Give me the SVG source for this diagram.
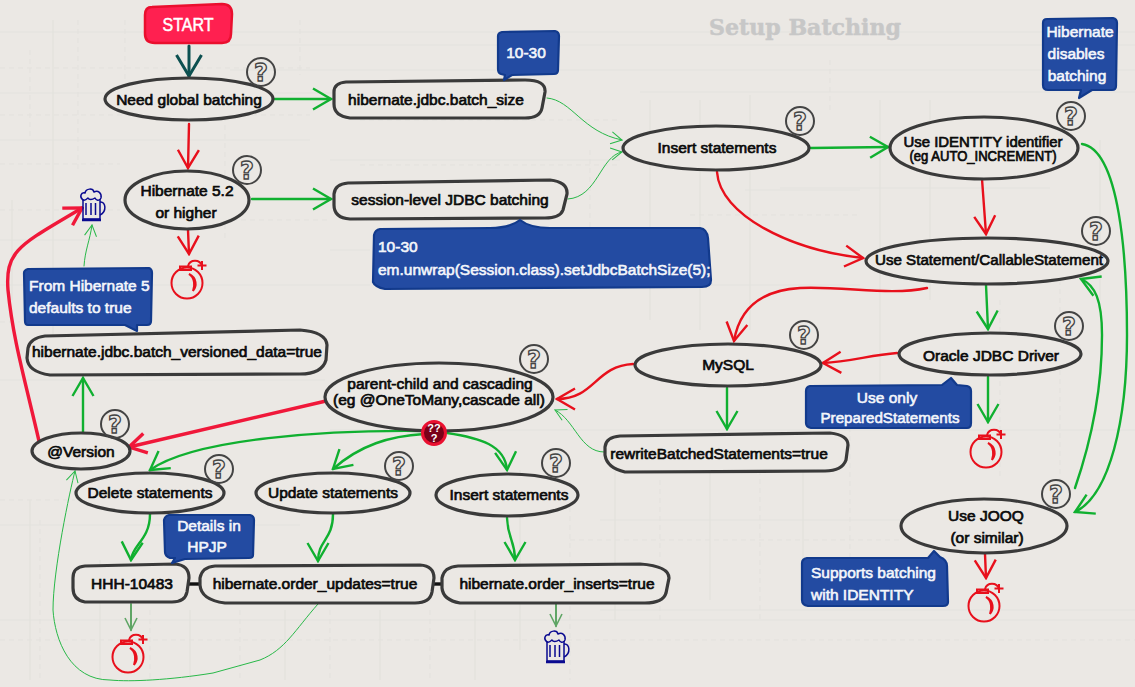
<svg xmlns="http://www.w3.org/2000/svg" width="1135" height="687" viewBox="0 0 1135 687">
<style>
text{font-family:"Liberation Sans",Arial,sans-serif;text-anchor:middle}
.t{font-size:15.500px;fill:#0a0a0a;stroke:#0a0a0a;stroke-width:.7}
.s{font-size:14px;fill:#0a0a0a;stroke:#0a0a0a;stroke-width:.7}
.w{font-size:15.500px;fill:#f4f6fb;stroke:#f4f6fb;stroke-width:.6}
.n{fill:#ebe8e4;stroke:#3a3a3a;stroke-width:3.2}
.c{fill:#234ba2;stroke:#123a8c;stroke-width:2.2;stroke-linejoin:round}
.q{fill:none;stroke:#444;stroke-width:2}
.qt{font-family:"DejaVu Sans",sans-serif;font-weight:bold;font-size:24px;fill:#ebe8e4;stroke:#444;stroke-width:1.3}
path.a{fill:none;stroke-linecap:round}
.g{stroke:#10b030;stroke-width:2.4;marker-end:url(#mg)}
.r{stroke:#e8101c;stroke-width:2.4;marker-end:url(#mr)}
.R{stroke:#f0183a;stroke-width:3.4;marker-end:url(#mR)}
.tg{stroke:#28b848;stroke-width:1;marker-end:url(#mt)}
.mg{stroke:#5fa565;stroke-width:2;marker-end:url(#mm)}
.k{stroke:#0c5050;stroke-width:3;marker-end:url(#mk)}
.l{stroke:#111;stroke-width:3.4;fill:none}
.h1{stroke:#e3e1dd;stroke-width:1.2;fill:none}
.h2{stroke:#e3e1dd;stroke-width:1;fill:none;stroke-dasharray:5 4}
</style>
<defs>
<marker id="mg" markerUnits="userSpaceOnUse" viewBox="-20 -12 22 24" refX="0" refY="0" markerWidth="22" markerHeight="24" orient="auto"><path d="M-18,-10.500L0,0L-18,10.500" fill="none" stroke="#10b030" stroke-width="2.4"/></marker>
<marker id="mr" markerUnits="userSpaceOnUse" viewBox="-20 -12 22 24" refX="0" refY="0" markerWidth="22" markerHeight="24" orient="auto"><path d="M-18,-10.500L0,0L-18,10.500" fill="none" stroke="#e8101c" stroke-width="2.4"/></marker>
<marker id="mR" markerUnits="userSpaceOnUse" viewBox="-20 -12 22 24" refX="0" refY="0" markerWidth="22" markerHeight="24" orient="auto"><path d="M-17,-10L0,0L-17,10" fill="none" stroke="#f0183a" stroke-width="3.4"/></marker>
<marker id="mk" markerUnits="userSpaceOnUse" viewBox="-24 -14 26 28" refX="0" refY="0" markerWidth="26" markerHeight="28" orient="auto"><path d="M-21,-12.500L0,0L-21,12.500" fill="none" stroke="#0c5050" stroke-width="3"/></marker>
<marker id="mt" markerUnits="userSpaceOnUse" viewBox="-14 -8 16 16" refX="0" refY="0" markerWidth="16" markerHeight="16" orient="auto"><path d="M-11,-6L0,0L-11,6" fill="none" stroke="#28b848" stroke-width="1"/></marker>
<marker id="mm" markerUnits="userSpaceOnUse" viewBox="-14 -8 16 16" refX="0" refY="0" markerWidth="16" markerHeight="16" orient="auto"><path d="M-12,-6L0,0L-12,6" fill="none" stroke="#5fa565" stroke-width="1.6"/></marker>
<g id="bomb" fill="none" stroke="#e8101c" stroke-width="2">
<circle cx="0" cy="0" r="15.500"/>
<path d="M-7,-16.500V-13H4V-16.500Z"/>
<path d="M1,-17C3,-24 13,-24 15,-17"/>
<path d="M10.500,-17.500H19.500M15,-22V-13"/>
<path d="M2,-9C8,-5 8,3 6,8C10,3 10,-5 2,-9Z"/>
</g>
<g id="beer" fill="none" stroke="#0a0a90" stroke-width="1.500" stroke-linejoin="round">
<path d="M-8,-6V14H9V-6"/><path d="M-9,15H10" stroke-width="2.500"/>
<path d="M-5,-2V10M0,-2V10M4.500,-2V10"/>
<path d="M9,-3C15,-4 16,7 9,10"/>
<path d="M-8,-5C-12,-8 -10,-13 -6,-12C-5,-17 2,-17 3,-13C7,-15 11,-12 10,-7C8,-3 5,-5 4,-7C1,-5 -2,-5 -3,-7C-5,-5 -6,-4 -8,-5Z"/>
</g>
</defs>
<rect width="1135" height="687" fill="#ebe8e4"/>
<g id="background">
<path class="h1" d="M0,32H1135M230,45H1135M0,93H335M0,140H310M230,70H1135M640,92H1135M780,188H1050M0,240H120M12,200V300M53,20V340M650,100V320M700,100V330M750,95V330M880,100V420M930,100V300M1100,140V300M0,620H1135M0,525H300M600,610H1135M520,470V650M615,470V620M710,470V600M803,470V560M30,500V680M100,560V680M190,610V680M285,610V680M380,610V680M475,610V680M0,380H325M330,430H1135M600,520H900M0,285H370M550,285H860M745,190H860M330,160H620M330,250H370"/>
<path class="h2" d="M0,68H310M0,115H310M0,164H120M0,210H120M160,220H330M0,322H20M360,120H620M360,165H620M690,215H860M830,60V110M590,150V230M1000,300V480M1060,280V490M0,640H1135M0,500H75M570,540H900M40,520V680M150,610V680M240,610V680M330,610V680M430,610V680M570,480V680M660,480V620M760,470V620M850,400V600M30,50V140M78,20V170M125,20V80M225,80V240M300,20V75"/>
</g>
<text x="805" y="35" style="font-family:'DejaVu Serif',serif;font-weight:bold;font-size:22px;fill:#c7c7c7;stroke:#c7c7c7;stroke-width:.5" textLength="192" lengthAdjust="spacingAndGlyphs">Setup Batching</text>
<g id="connectors">
<path class="a k" d="M189,46V76"/>
<path class="a g" d="M275,99H331"/>
<path class="a r" d="M189,124L188,168"/>
<path class="a r" d="M188,230L189,254"/>
<path class="a g" d="M252,199H331"/>
<path class="a tg" d="M547,98C572,100 582,132 622,140"/>
<path class="a tg" d="M568,199C598,197 600,156 622,152"/>
<path class="a g" d="M811,148L888,147"/>
<path class="a r" d="M717,172C720,215 790,250 863,258"/>
<path class="a r" d="M982,179L986,234"/>
<path class="a r" d="M927,288C890,296 845,286 800,288C765,290 740,305 734,341"/>
<path class="a g" d="M986,285L988,329"/>
<path class="a g" d="M1082,144C1120,150 1127,260 1127,335C1127,420 1110,495 1075,512"/>
<path class="a g" d="M1075,488C1095,430 1102,380 1102,335C1102,300 1095,285 1081,279"/>
<path class="a r" d="M897,353C870,355 850,362 823,363"/>
<path class="a g" d="M988,377V422"/>
<path class="a r" d="M985,554L986,578"/>
<path class="a g" d="M727,388V429"/>
<path class="a r" d="M633,364C595,366 595,399 557,399"/>
<path class="a tg" d="M604,452C580,452 575,420 555,410"/>
<path class="a R" d="M326,401L129,447"/>
<path class="a R" d="M39,441C25,380 13,340 8,290C5,250 20,245 82,208"/>
<path class="a g" d="M83,433V378"/>
<path class="a tg" d="M84,266C85,250 90,240 92,225"/>
<path class="a g" d="M422,431C330,430 195,438 150,470"/>
<path class="a g" d="M424,434C390,436 360,445 333,469"/>
<path class="a g" d="M447,433C480,438 505,445 507,470"/>
<path class="a g" d="M150,514C150,540 132,545 131,560"/>
<path class="a g" d="M333,514C333,540 318,540 318,561"/>
<path class="a g" d="M507,518C508,540 515,540 515,560"/>
<path class="a mg" d="M131,604V630"/>
<path class="a mg" d="M556,604V626"/>
<path class="a tg" d="M318,604C295,630 285,650 260,660L213,673C170,680 130,682 110,680C70,680 55,640 53,610C53,570 70,490 75,471"/>
<path class="l" d="M189,584H200"/>
<path class="l" d="M434,584H442"/>
</g>
<g id="start"><path d="M152,7L222,4Q232,4 232,14L231,34Q231,43 222,43L155,43Q145,43 145,34L145,15Q145,7 152,7Z" fill="#ff2050" stroke="#ea0f2e" stroke-width="2.500"/><text x="188" y="31" textLength="51" lengthAdjust="spacingAndGlyphs" style="font-size:19px;fill:#fff;stroke:#fff;stroke-width:.5">START</text></g>

<g id="need-global"><ellipse class="n" cx="189" cy="99" rx="84" ry="21"/><text class="t" x="189" y="105">Need global batching</text></g>
<g id="hibernate52"><ellipse class="n" cx="187" cy="200" rx="62" ry="29"/><text class="t" x="187" y="196">Hibernate 5.2</text><text class="t" x="186" y="218">or higher</text></g>
<g id="batch-size"><path class="n" d="M346,82L525,80Q546,80 545,92L542,108Q540,118 525,118L350,118Q334,116 334,104L334,92Q334,83 346,82Z"/><text class="t" x="436" y="105">hibernate.jdbc.batch_size</text></g>
<g id="session-level"><path class="n" d="M348,183L550,180Q568,182 567,194L563,210Q560,218 545,218L350,219Q334,218 334,205L334,194Q335,184 348,183Z"/><text class="t" x="450" y="205">session-level JDBC batching</text></g>
<g id="insert-top"><ellipse class="n" cx="716" cy="148" rx="93" ry="22"/><text class="t" x="717" y="153">Insert statements</text></g>
<g id="identity"><ellipse class="n" cx="984" cy="148" rx="94" ry="31"/><text class="t" x="983" y="147" textLength="159" lengthAdjust="spacingAndGlyphs">Use IDENTITY identifier</text><text class="s" x="983" y="161" textLength="147" lengthAdjust="spacingAndGlyphs">(eg AUTO_INCREMENT)</text></g>
<g id="statement"><ellipse class="n" cx="987" cy="261" rx="121" ry="23"/><text class="t" x="989" y="265" textLength="228" lengthAdjust="spacingAndGlyphs">Use Statement/CallableStatement</text></g>
<g id="oracle"><ellipse class="n" cx="990" cy="354" rx="91" ry="21"/><text class="t" x="991" y="361">Oracle JDBC Driver</text></g>
<g id="mysql"><ellipse class="n" cx="728" cy="365" rx="93" ry="21"/><text class="t" x="728" y="370">MySQL</text></g>
<g id="rewrite"><path class="n" d="M620,436L830,433Q848,435 848,445L846,460Q842,471 825,471L625,472Q607,468 605,455L605,447Q606,437 620,436Z"/><text class="t" x="719" y="459">rewriteBatchedStatements=true</text></g>
<g id="parent-child"><ellipse class="n" cx="439" cy="397" rx="114" ry="34"/><text class="t" x="440" y="389">parent-child and cascading</text><text class="t" x="439" y="405">(eg @OneToMany,cascade all)</text></g>
<g id="versioned"><path class="n" d="M45,336L300,330Q326,332 327,345L326,360Q322,374 300,374L50,375Q28,372 27,358L28,348Q30,338 45,336Z"/><text class="t" x="177" y="357">hibernate.jdbc.batch_versioned_data=true</text></g>
<g id="version"><ellipse class="n" cx="81" cy="451" rx="49" ry="18"/><text class="t" x="81" y="457">@Version</text></g>
<g id="delete"><ellipse class="n" cx="150" cy="493" rx="74" ry="20"/><text class="t" x="150" y="498">Delete statements</text></g>
<g id="update"><ellipse class="n" cx="333" cy="493" rx="77" ry="20"/><text class="t" x="333" y="498">Update statements</text></g>
<g id="insert-bottom"><ellipse class="n" cx="507" cy="495" rx="71" ry="21"/><text class="t" x="509" y="500">Insert statements</text></g>
<g id="hhh"><path class="n" d="M85,566L175,564Q189,565 189,578L187,592Q185,602 172,602L85,602Q73,600 73,588L73,578Q73,567 85,566Z"/><text class="t" x="132" y="589">HHH-10483</text></g>
<g id="order-updates"><path class="n" d="M215,566L420,565Q434,566 434,578L432,592Q430,603 415,603L225,603Q201,600 200,585L200,578Q202,567 215,566Z"/><text class="t" x="315" y="589">hibernate.order_updates=true</text></g>
<g id="order-inserts"><path class="n" d="M458,566L640,564Q669,566 669,578L666,593Q663,603 645,603L460,603Q443,600 442,588L442,578Q444,567 458,566Z"/><text class="t" x="557" y="589">hibernate.order_inserts=true</text></g>
<g id="jooq"><ellipse class="n" cx="984" cy="526" rx="83" ry="27"/><text class="t" x="986" y="521">Use JOOQ</text><text class="t" x="987" y="543">(or similar)</text></g>

<g id="note-1030"><path class="c" d="M502,32L555,31Q559,32 559,36L558,70Q558,74 554,74L512,75L504,80L505,75L501,74Q498,73 498,69L498,36Q498,33 502,32Z"/><text class="w" x="526" y="58">10-30</text></g>
<g id="note-disables"><path class="c" d="M1047,19L1113,18Q1117,19 1117,23L1116,86Q1116,90 1112,90L1092,90L1079,98L1081,90L1048,90Q1043,90 1043,85L1043,23Q1043,19 1047,19Z"/><text class="w" x="1080" y="37">Hibernate</text><text class="w" x="1076" y="59">disables</text><text class="w" x="1077" y="81">batching</text></g>
<g id="note-unwrap"><path class="c" d="M380,229L490,228Q510,228 520,220Q530,228 550,228L700,228Q707,229 708,238L711,280Q711,287 702,287L385,289Q375,287 373,282L374,235Q375,230 380,229Z"/><text class="w" x="378" y="252" style="text-anchor:start">10-30</text><text class="w" x="378" y="275" style="text-anchor:start">em.unwrap(Session.class).setJdbcBatchSize(5);</text></g>
<g id="note-defaults"><path class="c" d="M28,269L149,268Q152,269 152,273L151,321Q151,325 147,325L137,325L137,331L125,325L28,325Q25,325 25,321L24,273Q24,270 28,269Z"/><text class="w" x="29" y="291" style="text-anchor:start">From Hibernate 5</text><text class="w" x="29" y="313" style="text-anchor:start">defaults to true</text></g>
<g id="note-hpjp"><path class="c" d="M169,515L250,515Q254,516 254,520L253,555Q253,558 249,558L185,559L172,563L175,558L170,558Q165,556 165,552L164,520Q165,516 169,515Z"/><text class="w" x="209" y="531">Details in</text><text class="w" x="207" y="552">HPJP</text></g>
<g id="note-prepared"><path class="c" d="M810,386L942,385L951,378L957,385L967,386Q971,387 971,391L971,423Q971,428 967,428L811,428Q806,427 806,423L806,391Q806,387 810,386Z"/><text class="w" x="887" y="403">Use only</text><text class="w" x="890" y="423" textLength="139" lengthAdjust="spacingAndGlyphs">PreparedStatements</text></g>
<g id="note-supports"><path class="c" d="M807,558L928,558L934,551L940,557Q947,560 947,566L948,602Q948,606 943,606L808,606Q802,605 802,600L802,563Q802,559 807,558Z"/><text class="w" x="811" y="578" style="text-anchor:start">Supports batching</text><text class="w" x="811" y="600" style="text-anchor:start">with IDENTITY</text></g>

<g id="q1"><circle class="q" cx="261" cy="72" r="14"/><text class="qt" x="261" y="81">?</text></g>
<g id="q2"><circle class="q" cx="247" cy="170" r="14"/><text class="qt" x="247" y="179">?</text></g>
<g id="q3"><circle class="q" cx="800" cy="121" r="14"/><text class="qt" x="800" y="130">?</text></g>
<g id="q4"><circle class="q" cx="1071" cy="116" r="14"/><text class="qt" x="1071" y="125">?</text></g>
<g id="q5"><circle class="q" cx="1096" cy="231" r="14"/><text class="qt" x="1096" y="240">?</text></g>
<g id="q6"><circle class="q" cx="1069" cy="326" r="14"/><text class="qt" x="1069" y="335">?</text></g>
<g id="q7"><circle class="q" cx="804" cy="335" r="14"/><text class="qt" x="804" y="344">?</text></g>
<g id="q8"><circle class="q" cx="534" cy="359" r="14"/><text class="qt" x="534" y="368">?</text></g>
<g id="q9"><circle class="q" cx="115" cy="424" r="14"/><text class="qt" x="115" y="433">?</text></g>
<g id="q10"><circle class="q" cx="219" cy="469" r="14"/><text class="qt" x="219" y="478">?</text></g>
<g id="q11"><circle class="q" cx="399" cy="466" r="14"/><text class="qt" x="399" y="475">?</text></g>
<g id="q12"><circle class="q" cx="556" cy="463" r="14"/><text class="qt" x="556" y="472">?</text></g>
<g id="q13"><circle class="q" cx="1056" cy="494" r="14"/><text class="qt" x="1056" y="503">?</text></g>
<g id="q-red"><circle cx="434" cy="433" r="11.500" fill="#7a0018" stroke="#ea1030" stroke-width="3"/><text style="font-size:11px;font-weight:bold;fill:#fff"><tspan x="434" y="432">??</tspan><tspan x="434" y="442">?</tspan></text></g>

<g id="bomb1"><use href="#bomb" x="187" y="283"/></g>
<g id="bomb2"><use href="#bomb" x="986" y="452"/></g>
<g id="bomb3"><use href="#bomb" x="984" y="606"/></g>
<g id="bomb4"><use href="#bomb" x="128" y="657"/></g>
<g id="beer1"><use href="#beer" x="91" y="205"/></g>
<g id="beer2"><use href="#beer" x="555" y="647"/></g>
</svg>
